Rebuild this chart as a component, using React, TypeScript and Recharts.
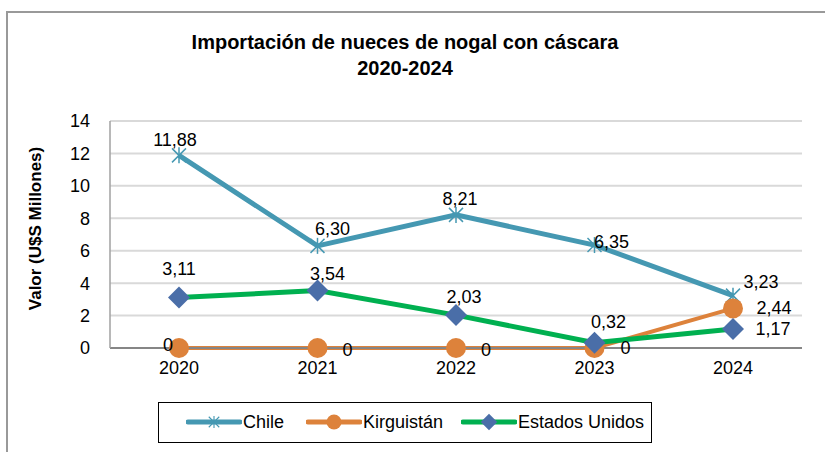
import React from "react";
import { LineChart, Line, XAxis, YAxis, CartesianGrid, LabelList } from "recharts";

const YEARS = ["2020", "2021", "2022", "2023", "2024"];
const CHILE = [11.88, 6.3, 8.21, 6.35, 3.23];
const KIRGUISTAN = [0, 0, 0, 0, 2.44];
const ESTADOS_UNIDOS = [3.11, 3.54, 2.03, 0.32, 1.17];
const Y_TICKS = [0, 2, 4, 6, 8, 10, 12, 14];

const TITLE = ["Importación de nueces de nogal con cáscara", "2020-2024"];
const Y_LABEL = "Valor (U$S Millones)";

const FONT = "'Liberation Sans', Arial, sans-serif";

const data = YEARS.map((year, i) => ({
  year,
  chile: CHILE[i],
  kirguistan: KIRGUISTAN[i],
  eeuu: ESTADOS_UNIDOS[i],
}));

// where each data label sits relative to its point (Excel placed them by hand)
const LABEL_OFFSETS: Record<string, number[][]> = {
  chile: [[-4, -15], [15, -17], [4, -16], [17, -3], [28, -14]],
  kirguistan: [[-11, -3], [30, 2], [30, 2], [31, 0], [41, 0]],
  eeuu: [[0, -29], [10, -17], [8, -18], [14, -21], [40, 0]],
};

const SERIES = [
  { key: "chile", name: "Chile", line: "#4598b2", width: 5, marker: "star" },
  { key: "kirguistan", name: "Kirguistán", line: "#dd823b", width: 4, marker: "circle" },
  { key: "eeuu", name: "Estados Unidos", line: "#00b050", width: 5, marker: "diamond" },
];

const fmt = (v: number) => (v === 0 ? "0" : v.toFixed(2).replace(".", ","));

function Marker({ type, cx, cy }: { type: string; cx: number; cy: number }) {
  if (type === "star") {
    const c = "#4598b2";
    return (
      <g stroke={c} strokeWidth={1.5}>
        <line x1={cx - 7} y1={cy - 7} x2={cx + 7} y2={cy + 7} />
        <line x1={cx - 7} y1={cy + 7} x2={cx + 7} y2={cy - 7} />
        <line x1={cx} y1={cy - 8} x2={cx} y2={cy + 8} />
      </g>
    );
  }
  if (type === "circle") {
    return <circle cx={cx} cy={cy} r={10} fill="#dd823b" />;
  }
  const s = 11;
  return (
    <path
      d={`M${cx},${cy - s}L${cx + s},${cy}L${cx},${cy + s}L${cx - s},${cy}Z`}
      fill="#4a6ea8"
    />
  );
}

const makeLabel = (key: string) => (props: any) => {
  const { x, y, value, index } = props;
  const [dx, dy] = LABEL_OFFSETS[key][index];
  return (
    <text
      x={x + dx}
      y={y + dy}
      textAnchor="middle"
      dominantBaseline="central"
      fontFamily={FONT}
      fontSize={18}
      fill="#000"
    >
      {fmt(value)}
    </text>
  );
};

function Legend() {
  const pos = [27, 147, 302];
  return (
    <div
      style={{
        position: "absolute",
        left: 158,
        top: 402,
        width: 494,
        height: 41,
        border: "1.5px solid #000",
        boxSizing: "border-box",
        fontFamily: FONT,
        fontSize: 18,
        whiteSpace: "nowrap",
      }}
    >
      {SERIES.map((s, i) => (
        <div
          key={s.key}
          style={{ position: "absolute", left: pos[i], top: 0, height: 38, display: "flex", alignItems: "center" }}
        >
          <svg width={56} height={24}>
            <line x1={2} y1={12} x2={54} y2={12} stroke={s.line} strokeWidth={5} strokeLinecap="round" />
            <g transform="translate(28,12) scale(0.75) translate(-28,-12)">
              <Marker type={s.marker} cx={28} cy={12} />
            </g>
          </svg>
          <span style={{ marginLeft: 1 }}>{s.name}</span>
        </div>
      ))}
    </div>
  );
}

export default function App() {
  return (
    <div
      style={{
        position: "absolute",
        left: 0,
        top: 0,
        width: 825,
        height: 452,
        background: "#fff",
        overflow: "hidden",
      }}
    >
      <div
        style={{
          position: "absolute",
          left: 6,
          top: 11,
          width: 900,
          height: 600,
          borderLeft: "2px solid #999",
          borderTop: "2px solid #999",
        }}
      />
      <div
        style={{
          position: "absolute",
          left: 0,
          top: 29,
          width: 810,
          textAlign: "center",
          fontFamily: FONT,
          fontWeight: "bold",
          fontSize: 20,
          lineHeight: "26px",
        }}
      >
        {TITLE.map((t) => (
          <div key={t}>{t}</div>
        ))}
      </div>
      <div style={{ position: "absolute", left: 0, top: 0 }}>
        <LineChart
          width={825}
          height={452}
          data={data}
          margin={{ top: 121, right: 23, bottom: 74, left: 20 }}
        >
          <CartesianGrid vertical={false} stroke="#d9d9d9" strokeWidth={2} />
          <XAxis
            dataKey="year"
            height={30}
            padding={{ left: 69, right: 69 }}
            axisLine={{ stroke: "#868686", strokeWidth: 2 }}
            tickLine={false}
            tickSize={4}
            tickMargin={9}
            tick={{ fill: "#000", fontFamily: FONT, fontSize: 18 }}
          />
          <YAxis
            width={90}
            domain={[0, 14]}
            ticks={Y_TICKS}
            interval={0}
            axisLine={{ stroke: "#a0a0a0", strokeWidth: 1.5 }}
            tickLine={false}
            tickSize={10}
            tickMargin={10}
            tick={{ fill: "#000", fontFamily: FONT, fontSize: 18 }}
            label={{
              content: (p: any) => {
                const vb = p.viewBox;
                const cy = vb.y + vb.height / 2 - 6;
                return (
                  <text
                    x={35}
                    y={cy}
                    transform={`rotate(-90, 35, ${cy})`}
                    textAnchor="middle"
                    dominantBaseline="central"
                    fontFamily={FONT}
                    fontWeight="bold"
                    fontSize={17}
                  >
                    {Y_LABEL}
                  </text>
                );
              },
            }}
          />
          {SERIES.map((s) => (
            <Line
              key={s.key}
              dataKey={s.key}
              name={s.name}
              type="linear"
              stroke={s.line}
              strokeWidth={s.width}
              isAnimationActive={false}
              activeDot={false}
              dot={(p: any) => <Marker key={`${s.key}-${p.index}`} type={s.marker} cx={p.cx} cy={p.cy} />}
            >
              <LabelList dataKey={s.key} content={makeLabel(s.key)} />
            </Line>
          ))}
        </LineChart>
      </div>
      <Legend />
    </div>
  );
}
